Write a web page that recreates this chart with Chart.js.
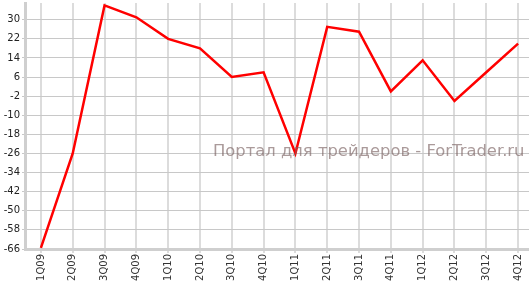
<!DOCTYPE html>
<html>
<head>
<meta charset="utf-8">
<script src="https://cdn.jsdelivr.net/npm/chart.js@4"></script>
<style>
  html, body { margin: 0; padding: 0; background: #fff; overflow: hidden; }
  #wrap { position: relative; width: 529px; height: 281px; overflow: hidden; }
  #box { position: absolute; left: 0; top: 0; width: 540px; height: 281px; }
  #mark {
    position: absolute; left: 213px; top: 141px;
    font: 16.4px "DejaVu Sans", sans-serif; color: rgba(125, 100, 100, 0.65);
    white-space: nowrap; pointer-events: none;
  }
</style>
</head>
<body>
<div id="wrap">
  <div id="box"><canvas id="chart" width="540" height="281"></canvas></div>
  <div id="mark">Портал для трейдеров - ForTrader.ru</div>
</div>
<script>
const quarters = ["1Q09", "2Q09", "3Q09", "4Q09", "1Q10", "2Q10", "3Q10", "4Q10",
  "1Q11", "2Q11", "3Q11", "4Q11", "1Q12", "2Q12", "3Q12", "4Q12"];
const values = [-65.5, -26, 36, 31, 22, 18, 6, 8, -26, 27, 25, 0, 13, -4, 8, 20];
const yTicks = [-66, -58, -50, -42, -34, -26, -18, -10, -2, 6, 14, 22, 30];

const ctx = document.getElementById("chart").getContext("2d");

new Chart(ctx, {
  type: "line",
  data: {
    labels: quarters,
    datasets: [{
      data: values,
      borderColor: "#ff0000",
      borderWidth: 2.5,
      pointRadius: 0,
      tension: 0,
    }]
  },
  options: {
    responsive: false,
    animation: false,
    layout: { padding: { top: 3, right: 6, left: 0, bottom: 0 } },
    plugins: { legend: { display: false }, tooltip: { enabled: false } },
    scales: {
      x: {
        offset: true,
        grid: { offset: false, color: "#dcdcdc", lineWidth: 2, tickLength: 4 },
        border: { color: "#cfcfcf", width: 3 },
        ticks: {
          maxRotation: 90, minRotation: 90, autoSkip: false,
          color: "#333", padding: 1,
          font: { family: "DejaVu Sans", size: 10 },
        },
        afterFit: (s) => { s.height = 32; s.paddingLeft = 0; s.paddingRight = 0; },
      },
      y: {
        min: -66,
        max: 37,
        afterBuildTicks: (s) => { s.ticks = yTicks.map(v => ({ value: v })); },
        grid: { color: "#c8c8c8", lineWidth: 1, tickLength: 3 },
        border: { color: "#cfcfcf", width: 3 },
        ticks: {
          color: "#222", padding: 2,
          font: { family: "DejaVu Sans", size: 10 },
        },
        afterFit: (s) => { s.width = 25; s.paddingTop = 0; s.paddingBottom = 0; },
      }
    }
  }
});
</script>
</body>
</html>
